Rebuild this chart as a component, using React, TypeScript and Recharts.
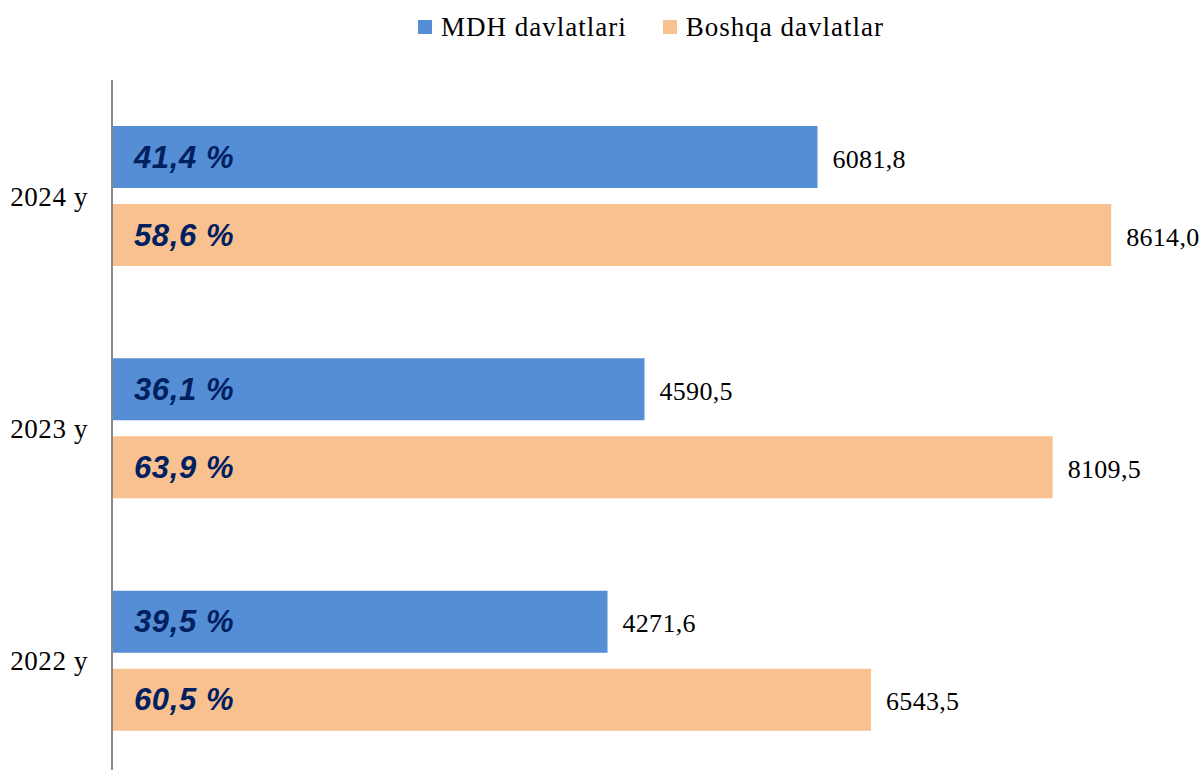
import React from "react";
import { BarChart, Bar, XAxis, YAxis, Legend, LabelList } from "recharts";

const years = ["2024 y", "2023 y", "2022 y"];
const mdhValues = [6081.8, 4590.5, 4271.6];
const otherValues = [8614.0, 8109.5, 6543.5];
const mdhShares = [41.4, 36.1, 39.5];
const otherShares = [58.6, 63.9, 60.5];

const seriesNames = { mdh: "MDH davlatlari", other: "Boshqa davlatlar" };
const colors = { mdh: "#558ED5", other: "#F9C090" };

const serif = "'Palatino Linotype', 'Book Antiqua', 'Liberation Serif', serif";

const data = years.map((year, i) => ({
  year,
  mdh: mdhValues[i],
  other: otherValues[i],
  mdhShare: mdhShares[i],
  otherShare: otherShares[i],
}));

const fmt = (v: number) => v.toFixed(1).replace(".", ",");

const renderShare = (props: any) => {
  const { x, y, height, value } = props;
  return (
    <text
      x={x + 22}
      y={y + height / 2}
      dominantBaseline="central"
      fill="#002060"
      fontFamily="'Liberation Sans', Arial, sans-serif"
      fontWeight="bold"
      fontStyle="italic"
      fontSize={31}
      letterSpacing={0.6}
    >
      {fmt(value)} %
    </text>
  );
};

const renderValue = (props: any) => {
  const { x, y, width, height, value } = props;
  return (
    <text
      x={x + width + 15}
      y={y + height / 2 + 2}
      dominantBaseline="central"
      fill="#000"
      fontFamily={serif}
      fontSize={26}
      letterSpacing={0.3}
    >
      {fmt(value)}
    </text>
  );
};

const renderLegend = () => (
  <div
    style={{
      display: "flex",
      alignItems: "center",
      height: 54,
      paddingLeft: 418,
      fontFamily: serif,
      fontSize: 27,
      letterSpacing: 1,
      color: "#000",
    }}
  >
    {(["mdh", "other"] as const).map((key, i) => (
      <div
        key={key}
        style={{ display: "flex", alignItems: "center", marginLeft: i === 0 ? 0 : 36 }}
      >
        <span
          style={{
            display: "inline-block",
            width: 14,
            height: 14,
            background: colors[key],
            marginRight: 9,
          }}
        />
        <span>{seriesNames[key]}</span>
      </div>
    ))}
  </div>
);

export default function App() {
  return (
    <div
      style={{
        position: "absolute",
        left: 0,
        top: 0,
        width: 1204,
        height: 770,
        overflow: "hidden",
        background: "#fff",
      }}
    >
      <BarChart
        width={1204}
        height={790}
        data={data}
        layout="vertical"
        margin={{ top: 26, right: 48, bottom: 13, left: 0 }}
        barSize={62}
        barGap={16}
      >
        <Legend
          verticalAlign="top"
          content={renderLegend}
          wrapperStyle={{ top: 0, left: 0, height: 54, width: 1204 }}
        />
        <XAxis type="number" domain={[0, 9000]} hide />
        <YAxis
          type="category"
          dataKey="year"
          width={112}
          tickLine={false}
          tickSize={0}
          tickMargin={24}
          axisLine={{ stroke: "#898989", strokeWidth: 2 }}
          tick={{ fill: "#000", fontFamily: serif, fontSize: 27, letterSpacing: 0.6 }}
        />
        <Bar dataKey="mdh" name={seriesNames.mdh} fill={colors.mdh} isAnimationActive={false}>
          <LabelList dataKey="mdhShare" content={renderShare} />
          <LabelList dataKey="mdh" content={renderValue} />
        </Bar>
        <Bar dataKey="other" name={seriesNames.other} fill={colors.other} isAnimationActive={false}>
          <LabelList dataKey="otherShare" content={renderShare} />
          <LabelList dataKey="other" content={renderValue} />
        </Bar>
      </BarChart>
    </div>
  );
}
